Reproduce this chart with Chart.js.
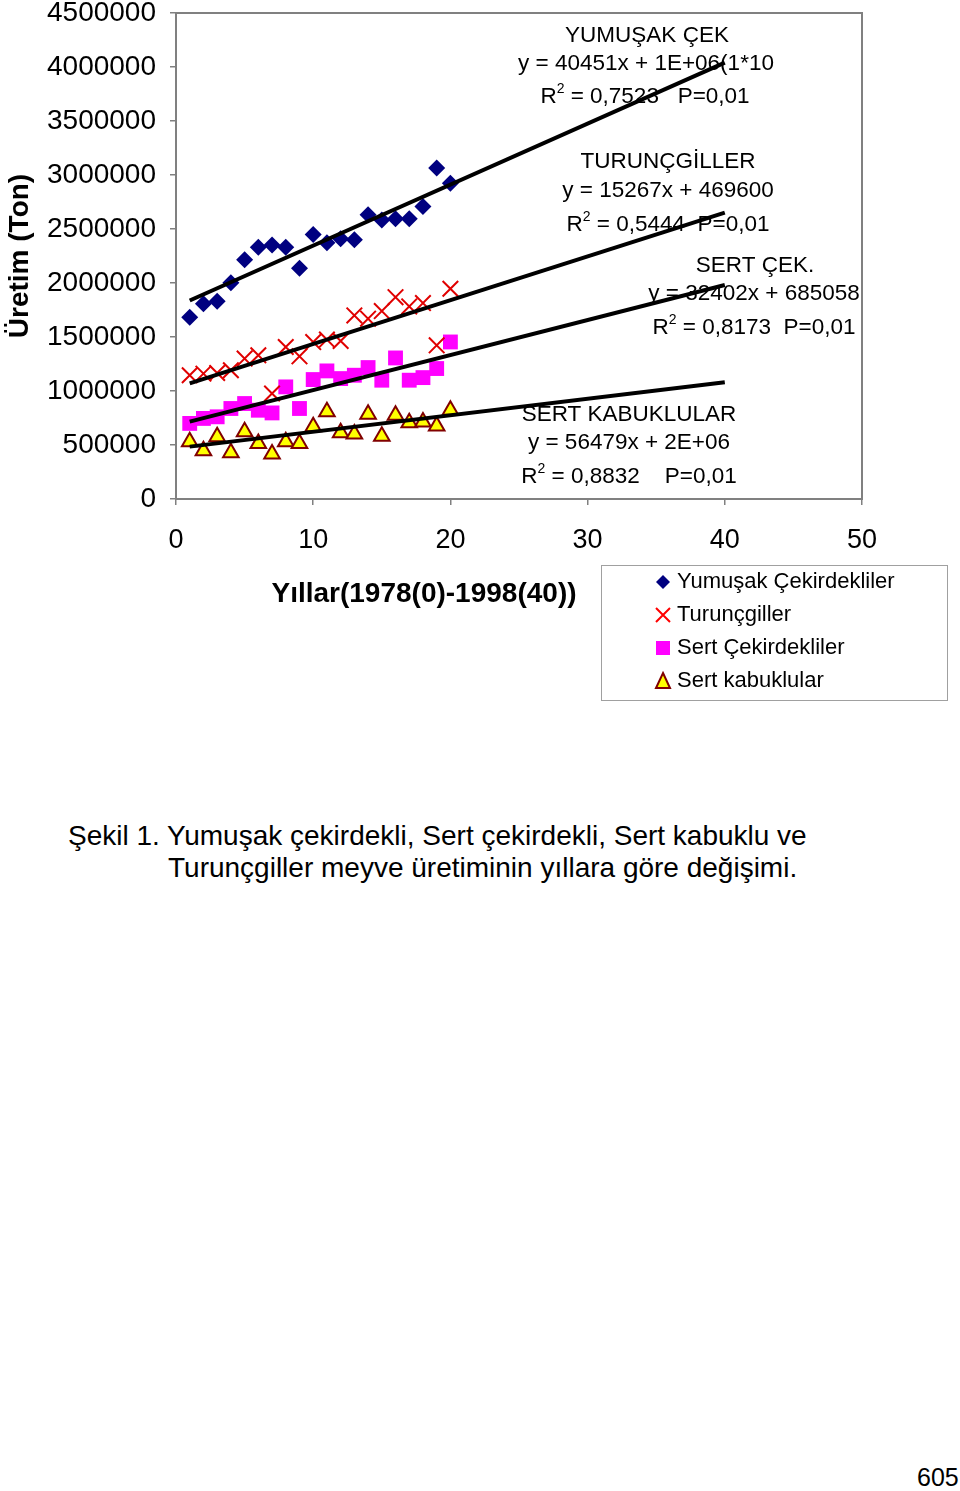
<!DOCTYPE html>
<html>
<head>
<meta charset="utf-8">
<script src="https://cdn.jsdelivr.net/npm/chart.js@4/dist/chart.umd.min.js"></script>
<style>
  body { margin: 0; background: #fff; font-family: "Liberation Sans", Arial, sans-serif; }
  #wrap { position: relative; width: 960px; height: 1491px; }
  #chart { position: absolute; left: 0; top: 0; }
  .cap { position: absolute; font-size: 28px; line-height: 32px; color: #000; white-space: nowrap; }
  #page { position: absolute; left: 917px; top: 1463px; font-size: 25px; }
</style>
</head>
<body>
<div id="wrap">
  <canvas id="chart" width="960" height="720"></canvas>
  <div class="cap" style="left:68px;top:820px">Şekil 1. Yumuşak çekirdekli, Sert çekirdekli, Sert kabuklu ve</div>
  <div class="cap" style="left:168px;top:852px">Turunçgiller meyve üretiminin yıllara göre değişimi.</div>
  <div id="page">605</div>
</div>
<script>
const years = [1, 2, 3, 4, 5, 6, 7, 8, 9, 10, 11, 12, 13, 14, 15, 16, 17, 18, 19, 20]
const yumusak = [1684000, 1808000, 1830000, 2002000, 2215000, 2331000, 2353000, 2331000, 2137000, 2449000,
                 2372000, 2409000, 2400000, 2631000, 2584000, 2594000, 2594000, 2708000, 3065000, 2923000]
const turunc = [1146000, 1161000, 1167000, 1192000, 1300000, 1331000, 977000, 1407000, 1321000, 1453000,
                1476000, 1463000, 1700000, 1670000, 1740000, 1869000, 1783000, 1814000, 1423000, 1947000]
const sertCek = [700000, 746000, 761000, 838000, 884000, 822000, 797000, 1038000, 838000, 1106000,
                 1186000, 1115000, 1146000, 1217000, 1100000, 1306000, 1100000, 1124000, 1208000, 1454000]
const sertKab = [529000, 446000, 576000, 428000, 622000, 515000, 416000, 529000, 515000, 668000,
                 807000, 613000, 601000, 785000, 582000, 776000, 705000, 714000, 675000, 822000]

// trend lines, read at x = 1 and x = 40
const trendX = [1, 40]
const trendYumusak = [1838000, 4040000]
const trendTurunc = [1071000, 2652000]
const trendSertCek = [717000, 1981000]
const trendSertKab = [485000, 1080000]

const seriesNames = ["Yumuşak Çekirdekliler", "Turunçgiller", "Sert Çekirdekliler", "Sert kabuklular"]
const xTicks = [0, 10, 20, 30, 40, 50]

const FONT = '"Liberation Sans", Arial, sans-serif'
const TXT = 22.5
const toPts = (xs, ys) => xs.map((x, i) => ({ x : x, y : ys[i] }))

const trend = (ys) => ({
    type : "line",
    data : toPts(trendX, ys),
    borderColor : "#000",
    borderWidth : 4,
    pointRadius : 0,
    fill : false,
    order : 0,
})

// marker drawing for the hand made legend
function marker(ctx, kind, x, y) {
    ctx.save()
    ctx.beginPath()
    if (kind === 0) {
        ctx.fillStyle = "#000080"
        ctx.moveTo(x, y - 7); ctx.lineTo(x + 7, y); ctx.lineTo(x, y + 7); ctx.lineTo(x - 7, y); ctx.closePath()
        ctx.fill()
    } else if (kind === 1) {
        ctx.strokeStyle = "#ff0000"; ctx.lineWidth = 2
        ctx.moveTo(x - 7, y - 7); ctx.lineTo(x + 7, y + 7); ctx.moveTo(x + 7, y - 7); ctx.lineTo(x - 7, y + 7)
        ctx.stroke()
    } else if (kind === 2) {
        ctx.fillStyle = "#ff00ff"
        ctx.fillRect(x - 7, y - 7, 14, 14)
    } else {
        ctx.fillStyle = "#ffff00"; ctx.strokeStyle = "#800000"; ctx.lineWidth = 2
        ctx.moveTo(x, y - 8); ctx.lineTo(x + 7, y + 7); ctx.lineTo(x - 7, y + 7); ctx.closePath()
        ctx.fill(); ctx.stroke()
    }
    ctx.restore()
}

function r2Line(ctx, cx, cy, rest) {
    ctx.font = TXT + "px " + FONT
    const wR = ctx.measureText("R").width
    const wRest = ctx.measureText(rest).width
    ctx.font = "14px " + FONT
    const w2 = ctx.measureText("2").width
    let x = cx - (wR + w2 + wRest) / 2
    ctx.textAlign = "left"
    ctx.font = TXT + "px " + FONT
    ctx.fillText("R", x, cy)
    ctx.font = "14px " + FONT
    ctx.fillText("2", x + wR, cy - 8)
    ctx.font = TXT + "px " + FONT
    ctx.fillText(rest, x + wR + w2, cy)
}

const decor = {
    id : "decor",
    beforeDatasetsDraw(chart) {
        const ctx = chart.ctx
        const a = chart.chartArea
        ctx.save()
        ctx.strokeStyle = "#808080"
        ctx.lineWidth = 2
        ctx.strokeRect(a.left, a.top, a.right - a.left, a.bottom - a.top)

        ctx.fillStyle = "#000"
        ctx.textBaseline = "middle"
        ctx.textAlign = "center"
        ctx.font = TXT + "px " + FONT
        ctx.fillText("YUMUŞAK ÇEK", 647, 36)
        ctx.fillText("y = 40451x + 1E+06(1*10", 646, 64)
        r2Line(ctx, 645, 97, " = 0,7523   P=0,01")
        ctx.textAlign = "center"
        ctx.fillText("TURUNÇGİLLER", 668, 162)
        ctx.fillText("y = 15267x + 469600", 668, 191)
        r2Line(ctx, 668, 225, " = 0,5444  P=0,01")
        ctx.textAlign = "center"
        ctx.fillText("SERT ÇEK.", 755, 266)
        ctx.fillText("y = 32402x + 685058", 754, 294)
        r2Line(ctx, 754, 328, " = 0,8173  P=0,01")
        ctx.textAlign = "center"
        ctx.fillText("SERT KABUKLULAR", 629, 415)
        ctx.fillText("y = 56479x + 2E+06", 629, 443)
        r2Line(ctx, 629, 477, " = 0,8832    P=0,01")
        ctx.restore()
    },
    afterDraw(chart) {
        const ctx = chart.ctx
        ctx.save()
        ctx.fillStyle = "#000"
        ctx.textBaseline = "middle"

        // axis titles
        ctx.font = "bold 28px " + FONT
        ctx.textAlign = "center"
        ctx.fillText("Yıllar(1978(0)-1998(40))", 424, 594)
        ctx.translate(20, 256)
        ctx.rotate(-Math.PI / 2)
        ctx.fillText("Üretim (Ton)", 0, 0)
        ctx.setTransform(1, 0, 0, 1, 0, 0)

        // legend
        ctx.strokeStyle = "#a0a0a0"
        ctx.lineWidth = 1
        ctx.strokeRect(601.5, 565.5, 346, 135)
        ctx.font = "22px " + FONT
        ctx.textAlign = "left"
        seriesNames.forEach((name, i) => {
            const y = 582 + i * 33
            marker(ctx, i, 663, y)
            ctx.fillStyle = "#000"
            ctx.fillText(name, 677, y)
        })
        ctx.restore()
    },
}

new Chart(document.getElementById("chart").getContext("2d"), {
    type : "scatter",
    data : {
        datasets : [
            trend(trendYumusak),
            trend(trendTurunc),
            trend(trendSertCek),
            trend(trendSertKab),
            {
                label : seriesNames[0],
                data : toPts(years, yumusak),
                pointStyle : "rectRot",
                pointRadius : 8.5,
                backgroundColor : "#000080",
                borderColor : "#000080",
                borderWidth : 0,
                order : 1,
            }, {
                label : seriesNames[1],
                data : toPts(years, turunc),
                pointStyle : "crossRot",
                pointRadius : 11,
                borderColor : "#e00000",
                borderWidth : 2,
                order : 1,
            }, {
                label : seriesNames[2],
                data : toPts(years, sertCek),
                pointStyle : "rect",
                pointRadius : 10.5,
                backgroundColor : "#ff00ff",
                borderColor : "#ff00ff",
                borderWidth : 0,
                order : 1,
            }, {
                label : seriesNames[3],
                data : toPts(years, sertKab),
                pointStyle : "triangle",
                pointRadius : 9,
                backgroundColor : "#ffff00",
                borderColor : "#800000",
                borderWidth : 2,
                order : 1,
            },
        ],
    }, options : {
        responsive : false,
        animation : false,
        layout : {
            padding : { top : 12, right : 98, left : 0, bottom : 0 },
        },
        plugins : {
            legend : { display : false },
            tooltip : { enabled : false },
        },
        scales : {
            x : {
                type : "linear",
                min : 0,
                max : 50,
                afterBuildTicks : (s) => { s.ticks = xTicks.map(v => ({ value : v })) },
                ticks : { color : "#000", font : { size : 27, family : FONT }, padding : 19 },
                grid : { drawOnChartArea : false, tickLength : 6, color : "#808080", lineWidth : 1.5 },
                border : { color : "#808080", width : 2 },
                afterFit : (s) => { s.height = 720 - 499; s.paddingLeft = 0; s.paddingRight = 0 },
            },
            y : {
                min : 0,
                max : 4500000,
                ticks : {
                    stepSize : 500000,
                    callback : (v) => String(v),
                    color : "#000",
                    font : { size : 28, family : FONT },
                    padding : 14,
                },
                grid : { drawOnChartArea : false, tickLength : 6, color : "#808080", lineWidth : 1.5 },
                border : { color : "#808080", width : 2 },
                afterFit : (s) => { s.width = 176; s.paddingTop = 0; s.paddingBottom = 0 },
            },
        },
    },
    plugins : [decor],
})
</script>
</body>
</html>
